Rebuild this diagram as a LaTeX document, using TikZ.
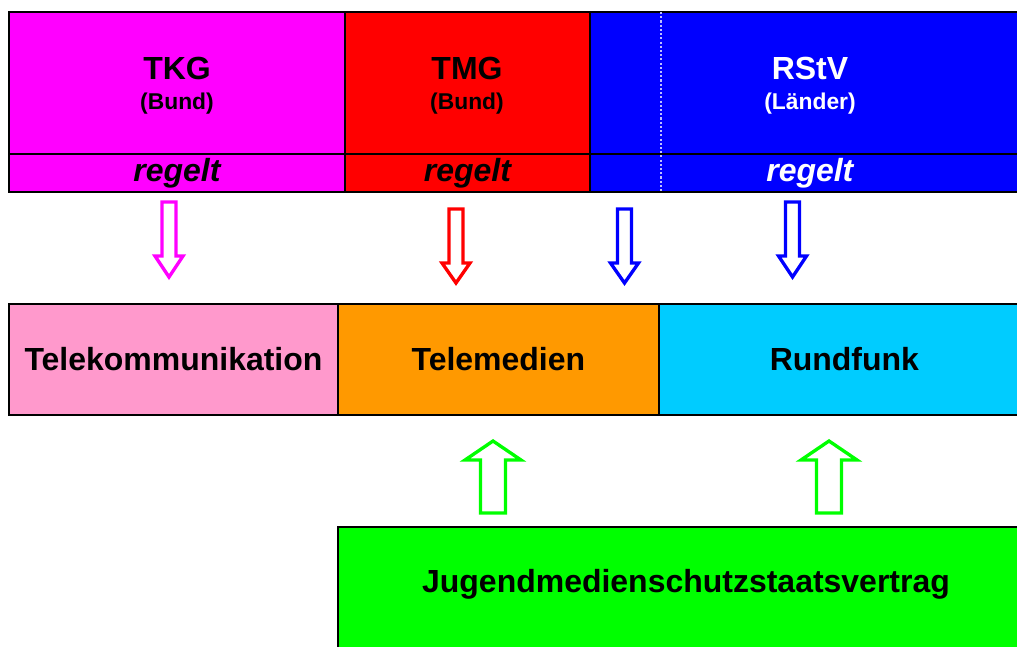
\documentclass[tikz,border=0pt]{standalone}
\usepackage{fontspec}
\setmainfont{Liberation Sans}
\usetikzlibrary{positioning}
\definecolor{tkgc}{HTML}{FF00FF}
\definecolor{tmgc}{HTML}{FF0000}
\definecolor{rstvc}{HTML}{0000FF}
\definecolor{tkc}{HTML}{FF99CC}
\definecolor{tmc}{HTML}{FF9900}
\definecolor{rfc}{HTML}{00CCFF}
\definecolor{jmc}{HTML}{00FF00}

% hollow block arrow: colour, x, tail y, head base y, tip y, half shaft, half head
\newcommand{\hollowarrow}[7]{%
  \draw[hollow, draw=#1] (#2-#6,#3) -- (#2-#6,#4) -- (#2-#7,#4) -- (#2,#5) -- (#2+#7,#4) -- (#2+#6,#4) -- (#2+#6,#3) -- cycle;}

\begin{document}
\begin{tikzpicture}[x=0.02cm, y=-0.02cm, box/.style={rectangle, draw, line width=1.1pt, inner sep=0pt, outer sep=0pt}, head/.style={font=\fontsize{18.2}{20}\selectfont\bfseries}, sub/.style={font=\fontsize{13}{15}\selectfont\bfseries}, verb/.style={font=\fontsize{18.2}{20}\selectfont\bfseries\itshape}, hollow/.style={line width=1.9pt, fill=white, line join=miter}]

    \useasboundingbox (0,0) rectangle (1017,646);
    \clip (0,0) rectangle (1017,646);

    % laws
    \node[box, fill=tkgc, anchor=north west, minimum width=6.72cm, minimum height=2.84cm] (tkg) at (9,12) {};
    \node[box, fill=tmgc, right=0pt of tkg, minimum width=4.9cm, minimum height=2.84cm] (tmg) {};
    \node[box, fill=rstvc, right=0pt of tmg, minimum width=8.8cm, minimum height=2.84cm] (rstv) {};
    \node[box, fill=tkgc, below=0pt of tkg, minimum width=6.72cm, minimum height=0.76cm, verb] (tkgr) {regelt};
    \node[box, fill=tmgc, below=0pt of tmg, minimum width=4.9cm, minimum height=0.76cm, verb] (tmgr) {regelt};
    \node[box, fill=rstvc, below=0pt of rstv, minimum width=8.8cm, minimum height=0.76cm, verb, text=white] (rstvr) {regelt};
    \draw[blue!25!white, line width=0.8pt, dash pattern=on 1.2pt off 1.2pt] (661,12) -- (661,192);

    \node[head] (tkgt) at (177,68) {TKG};
    \node[sub] (tkgb) at (177,104) {(Bund)};
    \node[head] (tmgt) at (467,68) {TMG};
    \node[sub] (tmgb) at (467,104) {(Bund)};
    \node[head, text=white] (rstvt) at (810,68) {RStV};
    \node[sub, text=white] (rstvb) at (810,104) {(Länder)};

    % media
    \node[box, fill=tkc, anchor=north west, minimum width=6.58cm, minimum height=2.22cm, head] (tk) at (9,304) {Telekommunikation};
    \node[box, fill=tmc, right=0pt of tk, minimum width=6.42cm, minimum height=2.22cm, head] (tm) {Telemedien};
    \node[box, fill=rfc, right=0pt of tm, minimum width=7.42cm, minimum height=2.22cm, head] (rf) {Rundfunk};

    % youth protection
    \node[box, fill=jmc, anchor=north west, minimum width=13.84cm, minimum height=2.66cm] (jm) at (338,527) {};
    \node[head] (jmt) at (686,584) {Jugendmedienschutzstaatsvertrag};

    \hollowarrow{tkgc}{169}{202}{256}{277}{7}{14}
    \hollowarrow{tmgc}{456}{209}{263}{283}{7}{14}
    \hollowarrow{rstvc}{624.5}{209}{263}{283}{7}{14}
    \hollowarrow{rstvc}{792.5}{202}{256}{277}{7}{14}
    \hollowarrow{jmc}{493}{513}{460}{441}{12.5}{28}
    \hollowarrow{jmc}{829}{513}{460}{441}{12.5}{28}

\end{tikzpicture}
\end{document}
